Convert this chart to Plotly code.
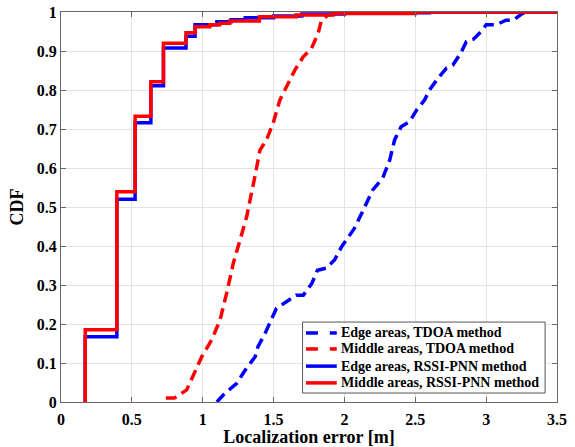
import plotly.graph_objects as go

# Edge areas, TDOA method (dashed blue)
edge_tdoa_x = [1.10, 1.145, 1.24, 1.30, 1.37, 1.39, 1.44, 1.486, 1.52, 1.59, 1.66, 1.71, 1.77, 1.81,
               1.87, 1.93, 1.98, 2.03, 2.07, 2.13, 2.20, 2.27, 2.32, 2.354, 2.40, 2.46, 2.51, 2.565,
               2.60, 2.66, 2.72, 2.765, 2.82, 2.86, 2.91, 2.965, 3.00, 3.07, 3.14, 3.19, 3.26, 3.30]
edge_tdoa_y = [0.0, 0.018, 0.048, 0.082, 0.116, 0.142, 0.176, 0.21, 0.24, 0.257, 0.274, 0.274, 0.304, 0.338,
               0.343, 0.364, 0.398, 0.424, 0.445, 0.49, 0.544, 0.574, 0.621, 0.672, 0.706, 0.719, 0.749, 0.774,
               0.80, 0.83, 0.856, 0.864, 0.894, 0.924, 0.93, 0.95, 0.967, 0.967, 0.979, 0.979, 0.997, 1.0]

# Middle areas, TDOA method (dashed red)
mid_tdoa_x = [0.74, 0.80, 0.887, 0.993, 1.063, 1.122, 1.169, 1.216, 1.263, 1.31, 1.368, 1.404, 1.45,
              1.497, 1.544, 1.592, 1.65, 1.709, 1.768, 1.814, 1.838, 1.885, 2.0]
mid_tdoa_y = [0.01, 0.01, 0.031, 0.116, 0.159, 0.21, 0.279, 0.356, 0.415, 0.475, 0.578, 0.646, 0.672,
              0.715, 0.774, 0.808, 0.851, 0.885, 0.907, 0.945, 0.979, 0.992, 1.0]

# Edge areas, RSSI-PNN method (solid blue, step)
edge_rssi_x = [0.171, 0.171, 0.394, 0.523, 0.634, 0.723, 0.882, 0.946, 1.10, 1.20, 1.30, 1.50, 1.70, 2.00, 2.60, 3.5]
edge_rssi_y = [0.0, 0.167, 0.52, 0.716, 0.811, 0.908, 0.938, 0.967, 0.975, 0.98, 0.985, 0.99, 0.995, 0.998, 1.0, 1.0]

# Middle areas, RSSI-PNN method (solid red, step)
mid_rssi_x = [0.171, 0.171, 0.394, 0.523, 0.634, 0.723, 0.882, 0.946, 1.05, 1.12, 1.19, 1.40, 1.66, 1.92, 2.50, 3.5]
mid_rssi_y = [0.0, 0.185, 0.539, 0.733, 0.821, 0.92, 0.947, 0.962, 0.967, 0.971, 0.977, 0.988, 0.992, 0.996, 1.0, 1.0]

series_names = ["Edge areas, TDOA method", "Middle areas, TDOA method",
                "Edge areas, RSSI-PNN method", "Middle areas, RSSI-PNN method"]

x_ticks = [0, 0.5, 1, 1.5, 2, 2.5, 3, 3.5]
x_labels = ["0", "0.5", "1", "1.5", "2", "2.5", "3", "3.5"]
y_ticks = [0, 0.1, 0.2, 0.3, 0.4, 0.5, 0.6, 0.7, 0.8, 0.9, 1]
y_labels = ["0", "0.1", "0.2", "0.3", "0.4", "0.5", "0.6", "0.7", "0.8", "0.9", "1"]

BLUE = "rgb(0,0,255)"
RED = "rgb(255,0,0)"
DASH = "11px,6px"
styles = [(BLUE, DASH, "linear"), (RED, DASH, "linear"), (BLUE, "solid", "hv"), (RED, "solid", "hv")]
data = [(edge_tdoa_x, edge_tdoa_y), (mid_tdoa_x, mid_tdoa_y),
        (edge_rssi_x, edge_rssi_y), (mid_rssi_x, mid_rssi_y)]

fig = go.Figure()
for (xs, ys), name, (col, dash, shape) in zip(data, series_names, styles):
    fig.add_trace(go.Scatter(x=xs, y=ys, mode="lines", name=name,
                             line=dict(color=col, width=3.5, dash=dash, shape=shape)))

font_family = "Liberation Serif"

# Custom legend box (paper coordinates) to match the compact MATLAB legend
L, R, T, B = 0.487, 0.976, 0.205, 0.023
shapes = [dict(type="rect", xref="paper", yref="paper", x0=L, x1=R, y0=B, y1=T,
               line=dict(color="#555", width=1), fillcolor="white", layer="above")]
annotations = []
row_y = [0.177, 0.136, 0.092, 0.049]
for i, (name, (col, dash, shape)) in enumerate(zip(series_names, styles)):
    yy = row_y[i]
    if dash == "solid":
        shapes.append(dict(type="line", xref="paper", yref="paper", x0=0.494, x1=0.556,
                           y0=yy, y1=yy, line=dict(color=col, width=3.5), layer="above"))
    else:
        for a, b in [(0.494, 0.518), (0.542, 0.556)]:
            shapes.append(dict(type="line", xref="paper", yref="paper", x0=a, x1=b,
                               y0=yy, y1=yy, line=dict(color=col, width=3.5), layer="above"))
    annotations.append(dict(xref="paper", yref="paper", x=0.561, y=yy, xanchor="left",
                            yanchor="middle", showarrow=False, text="<b>%s</b>" % name,
                            font=dict(family=font_family, size=14, color="black")))

fig.update_layout(
    width=575, height=447,
    margin=dict(l=61, r=18, t=12, b=45, autoexpand=False),
    paper_bgcolor="white", plot_bgcolor="white",
    font=dict(family=font_family, color="black"),
    showlegend=False,
    shapes=shapes, annotations=annotations,
)
fig.update_xaxes(
    range=[0, 3.5], tickvals=x_ticks, ticktext=["<b>%s</b>" % t for t in x_labels],
    showgrid=True, gridcolor="#e3e3e3", gridwidth=1,
    showline=True, linecolor="#666", linewidth=1, mirror="ticks",
    ticks="inside", ticklen=5, tickcolor="#666", automargin=False,
    ticklabelstandoff=3,
    tickfont=dict(family=font_family, size=16, color="black"),
    title=dict(text="<b>Localization error [m]</b>", standoff=6,
               font=dict(family=font_family, size=18, color="black")),
    zeroline=False,
)
fig.update_yaxes(
    range=[0, 1], tickvals=y_ticks, ticktext=["<b>%s</b>" % t for t in y_labels],
    showgrid=True, gridcolor="#e3e3e3", gridwidth=1,
    showline=True, linecolor="#666", linewidth=1, mirror="ticks",
    ticks="inside", ticklen=5, tickcolor="#666", automargin=False,
    tickfont=dict(family=font_family, size=16, color="black"),
    title=dict(text="<b>CDF</b>", standoff=8,
               font=dict(family=font_family, size=18, color="black")),
    zeroline=False,
)

fig.write_html("out.html")
